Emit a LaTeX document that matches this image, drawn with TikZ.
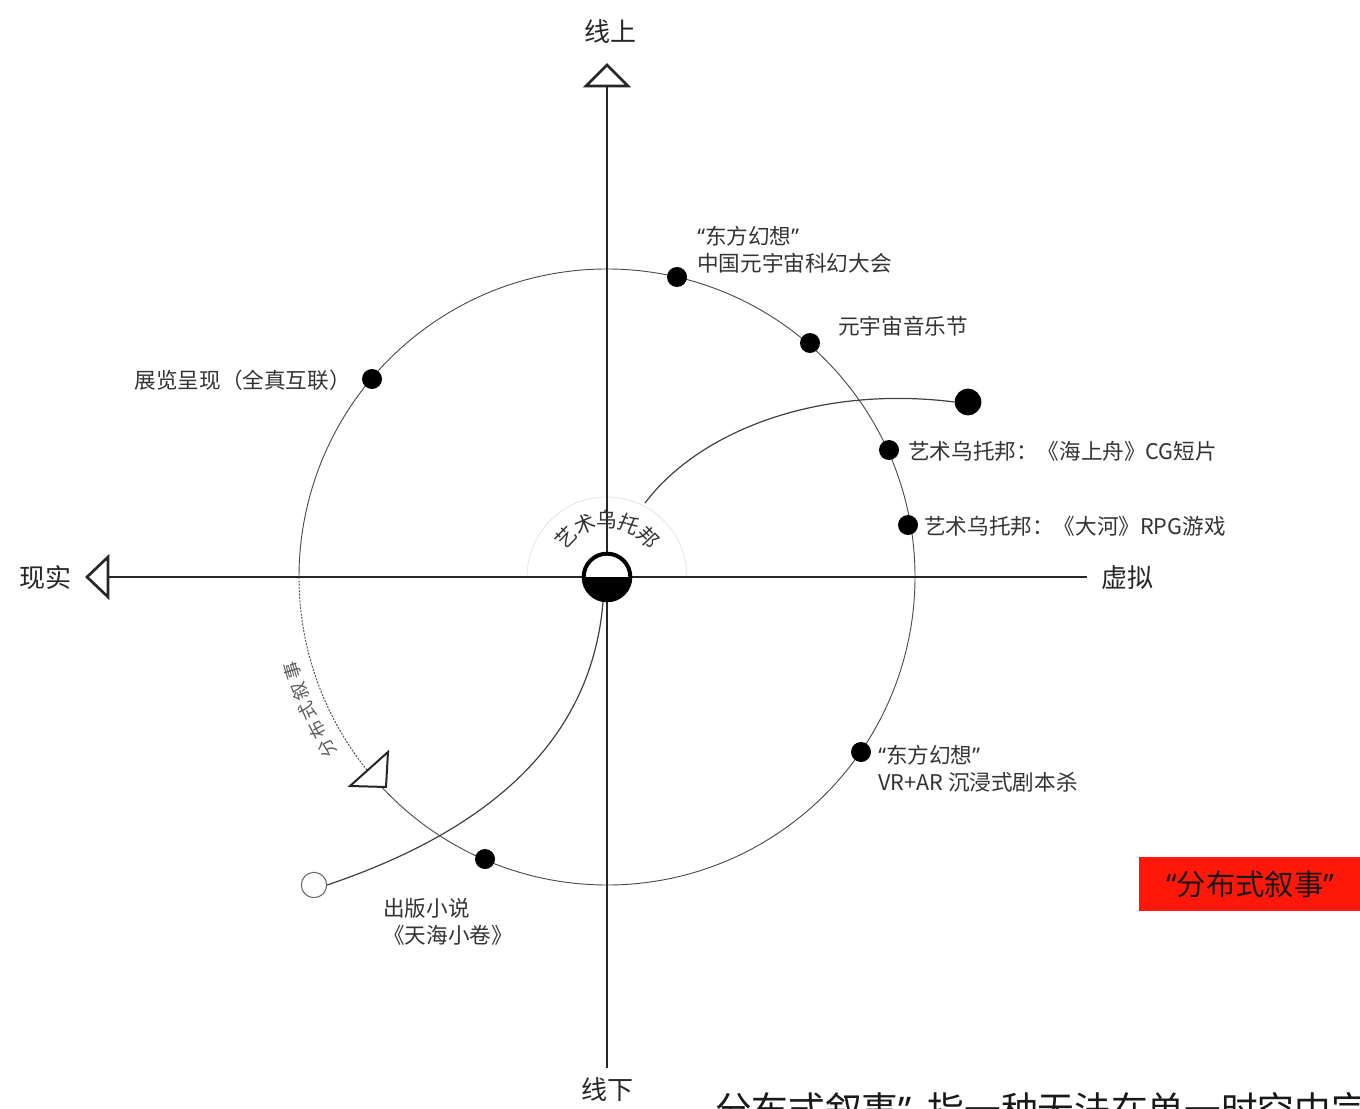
\documentclass[tikz,border=0pt]{standalone}
\usepackage{fontspec}
\setmainfont{Noto Sans CJK SC}
\newfontfamily\latq{Noto Sans}
\newcommand{\myLq}{{\latq “}}
\newcommand{\myRq}{{\latq ”}}
\begin{document}
\begin{tikzpicture}[x=0.75pt,y=-0.75pt,
  lbl/.style={font=\fontsize{16.2}{20}\selectfont, text=black!80, inner sep=0pt, anchor=west, align=left},
  axlbl/.style={font=\fontsize{19.5}{22}\selectfont, text=black!85, inner sep=0pt},
  dotnode/.style={circle, fill=black, minimum size=15pt, inner sep=0pt},
  axisline/.style={line width=2pt, black!85},
  arrowtri/.style={line width=2pt, black!85, fill=white, line join=miter},
  ring/.style={line width=0.7pt, black!70},
  spiral/.style={line width=0.9pt, black!75},
  arcchar/.style={font=\fontsize{15.5}{15}\selectfont, text=black!80, inner sep=0pt},
  sidechar/.style={font=\fontsize{13.5}{13}\selectfont, text=black!65, inner sep=0pt}
]
\useasboundingbox (0,0) rectangle (1360,1109);
\clip (0,0) rectangle (1360,1109);

% ring
\coordinate (o) at (607,577);
\draw[ring] ([shift={(219:231pt)}]o) arc[start angle=219, end angle=540, radius=231pt];
\draw[ring, dash pattern=on 1.5pt off 1pt] ([shift={(180:231pt)}]o) arc[start angle=180, end angle=219, radius=231pt];
\filldraw[line width=1.5pt, black!85, fill=white, line join=miter] (350,786) -- (388,752) -- (386,787) -- cycle;

% faint half arc around centre
\draw[black!12, line width=0.5pt] ([shift={(180:60pt)}]o) arc[start angle=180, end angle=0, radius=60pt];

% axes
\coordinate (vb) at (607,1068);
\coordinate (hr) at (1087,577);
\draw[axisline] (607,86) -- (vb);
\draw[axisline] (108,577) -- (hr);
\filldraw[arrowtri] (586,86) -- (607,65) -- (628,86) -- cycle;
\filldraw[arrowtri] (108,557) -- (87,577) -- (108,597) -- cycle;

\node[axlbl] (up) at (610,32) {线上};
\node[axlbl] (down) at (607,1090) {线下};
\node[axlbl] (real) at (45,578) {现实};
\node[axlbl] (virt) at (1127,578) {虚拟};

% spiral
\coordinate (s1) at (645,503);
\node[circle, fill=black, minimum size=20pt, inner sep=0pt] (bd) at (968,402) {};
\node[circle, draw=black!60, line width=0.8pt, fill=white, minimum size=19pt, inner sep=0pt] (oc) at (314,885) {};
\draw[spiral] (s1) .. controls (700,430) and (820,385) .. (bd.west);
\coordinate (s2) at (603,602);
\draw[spiral] (s2) .. controls (590,760) and (460,840) .. (oc.east);

% centre node
\node[circle, draw=black, line width=3pt, fill=white, minimum size=35pt, inner sep=0pt,
  path picture={\fill[black] (path picture bounding box.west) rectangle (path picture bounding box.south east);}] (c) at (607,577) {};

% curved label
\foreach \a/\ch in {136/艺,113/术,90/乌,67/托,44/邦}{
  \pgfmathsetmacro{\rot}{\a-90}
  \node[arcchar, rotate=\rot] at ([shift={(\a:43pt)}]o) {\ch};
}
% side label along dashed arc
\foreach \a/\ch in {211.5/分,207.8/布,204.1/式,200.4/叙,196.7/事}{
  \pgfmathsetmacro{\rot}{\a-90}
  \node[sidechar, rotate=\rot] at ([shift={(\a:246pt)}]o) {\ch};
}

% dots on ring
\node[dotnode] (d1) at (677,277) {};
\node[dotnode] (d2) at (810,343) {};
\node[dotnode] (d3) at (889,450) {};
\node[dotnode] (d4) at (908,525) {};
\node[dotnode] (d5) at (861,752) {};
\node[dotnode] (d6) at (485,859) {};
\node[dotnode] (d7) at (372,379) {};

% labels
\node[lbl] (l1) at (697,249.5) {\myLq 东方幻想\myRq\\中国元宇宙科幻大会};
\node[lbl] (l2) at (838,326) {元宇宙音乐节};
\node[lbl] (l3) at (908,451) {艺术乌托邦：《海上舟》CG短片};
\node[lbl] (l4) at (924,526) {艺术乌托邦：《大河》RPG游戏};
\node[lbl] (l5) at (878,768.5) {\myLq 东方幻想\myRq\\VR+AR 沉浸式剧本杀};
\node[lbl, anchor=north west] (l6) at (383,898) {出版小说\\《天海小卷》};
\node[lbl, anchor=east] (l7) at (351,380) {展览呈现（全真互联）};

% red box
\node[fill={rgb,255:red,255;green,24;blue,10}, minimum width=166pt, minimum height=40pt, inner sep=0pt,
  font=\fontsize{22}{24}\selectfont, text=black!90] (rb) at (1250,884) {\myLq 分布式叙事\myRq};

% bottom cut-off text
\node[font=\fontsize{27.5}{30}\selectfont, text=black!90, inner sep=0pt, anchor=base west] (bt) at (715,1123) {分布式叙事\myRq\hspace{12pt}指一种无法在单一时空中完整呈现};
\end{tikzpicture}
\end{document}
